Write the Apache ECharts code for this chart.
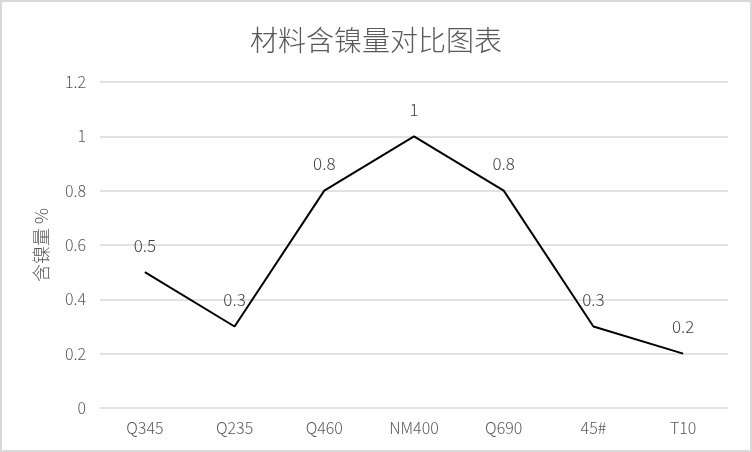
<!DOCTYPE html>
<html>
<head>
<meta charset="utf-8">
<script src="https://cdn.jsdelivr.net/npm/echarts@6/dist/echarts.min.js"></script>
<style>
  html, body { margin: 0; padding: 0; background: #fff; }
  #chart { width: 752px; height: 452px; box-sizing: border-box; border: 2px solid #d9d9d9; }
</style>
</head>
<body>
<div id="chart"></div>
<script>
// 材料含镍量
const categories = ['Q345', 'Q235', 'Q460', 'NM400', 'Q690', '45#', 'T10'];
const nickelValues = [0.5, 0.3, 0.8, 1, 0.8, 0.3, 0.2];
const yTicks = [0, 0.2, 0.4, 0.6, 0.8, 1, 1.2];

const font = '"Noto Sans CJK SC", "Liberation Sans", sans-serif';

const chart = echarts.init(document.getElementById('chart'));
chart.setOption({
    animation: false,
    title: {
        text: '材料含镍量对比图表',
        left: 'center',
        top: 19,
        textStyle: { fontFamily: font, fontSize: 28, fontWeight: 300, color: '#595959' }
    },
    grid: { left: 98, right: 22, top: 80, bottom: 42 },
    xAxis: {
        type: 'category',
        data: categories,
        boundaryGap: true,
        axisLine: { show: false },
        axisTick: { show: false },
        axisLabel: { color: '#595959', fontFamily: font, fontSize: 16, fontWeight: 300, margin: 12 }
    },
    yAxis: {
        type: 'value',
        min: yTicks[0],
        max: yTicks[yTicks.length - 1],
        interval: 0.2,
        name: '含镍量 %',
        nameLocation: 'middle',
        nameGap: 50,
        nameTextStyle: { color: '#595959', fontFamily: font, fontSize: 18, fontWeight: 300 },
        axisLine: { show: false },
        axisTick: { show: false },
        splitLine: { lineStyle: { color: '#d9d9d9', width: 1.5 } },
        axisLabel: { color: '#595959', fontFamily: font, fontSize: 16, fontWeight: 300, margin: 14 }
    },
    series: [{
        type: 'line',
        data: nickelValues,
        symbol: 'circle',
        symbolSize: 1,
        itemStyle: { color: 'rgba(0,0,0,0)' },
        lineStyle: { color: '#000', width: 2 },
        label: {
            show: true,
            position: 'top',
            distance: 18,
            color: '#404040',
            fontFamily: font,
            fontSize: 17,
            fontWeight: 300
        },
        z: 3
    }]
});
</script>
</body>
</html>
